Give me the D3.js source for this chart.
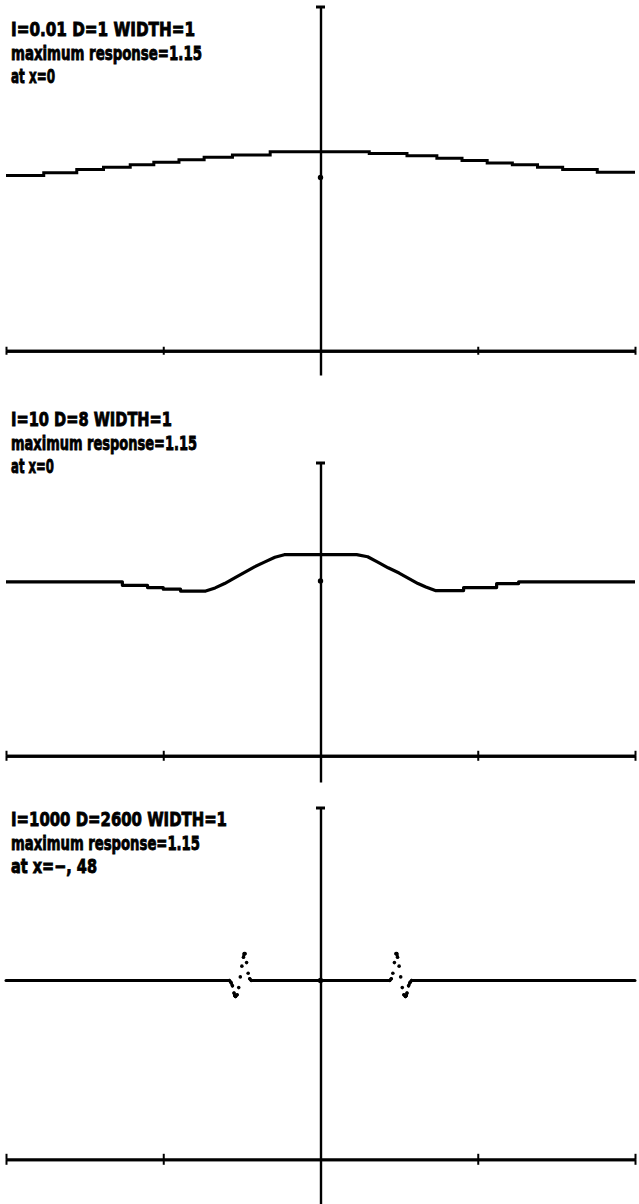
<!DOCTYPE html>
<html>
<head>
<meta charset="utf-8">
<script src="https://cdn.jsdelivr.net/npm/d3@7"></script>
<style>
  html, body { margin: 0; padding: 0; background: #fff; }
  svg { display: block; }
  .lbl { font-family: "Liberation Sans Narrow", "DejaVu Sans Condensed", "Roboto", sans-serif;
         font-weight: 700; font-size: 20px; fill: #000; stroke: #000; stroke-width: 0.85px; }
</style>
</head>
<body>
<svg id="chart" width="639" height="1204"></svg>
<script>
// ---- annotations ----
const titleLines = ["I=0.01 D=1 WIDTH=1", "I=10 D=8 WIDTH=1", "I=1000 D=2600 WIDTH=1"];
const maxLines   = ["maximum response=1.15", "maximum response=1.15", "maximum response=1.15"];
const atLines    = ["at x=0", "at x=0", "at x=\u2212, 48"];

// ---- axes ----
const xDomain = [-2, 2];
const xTicks = [-2, -1, 1, 2];
const unitMark = 1;                 // reference level marked on the vertical axis
const yExtents = [[-0.14, 1.99], [-0.15, 1.68], [-0.25, 1.97]];

// ---- panel 1: staircase response (step start x, level) ----
const p1StepX = [-2.0, -1.76, -1.55, -1.38, -1.21, -1.06, -0.90, -0.74, -0.56, -0.32,
                  0.31, 0.55, 0.74, 0.90, 1.06, 1.22, 1.38, 1.54, 1.76, 2.0];
const p1Level = [1.011, 1.028, 1.046, 1.059, 1.074, 1.088, 1.102, 1.117, 1.130, 1.148,
                 1.138, 1.125, 1.111, 1.098, 1.084, 1.074, 1.059, 1.046, 1.031, 1.031];

// ---- panel 2: response ----
const p2X = [-2.0, -1.26, -1.26, -1.10, -1.10, -1.00, -1.00, -0.89, -0.89, -0.73,
             -0.67, -0.61, -0.54, -0.48, -0.42, -0.35, -0.29, -0.23, 0.23, 0.30,
              0.37, 0.43, 0.50, 0.56, 0.62, 0.67, 0.73, 0.91, 0.91, 1.12,
              1.12, 1.26, 1.26, 2.0];
const p2Y = [0.995, 0.995, 0.975, 0.975, 0.962, 0.962, 0.953, 0.953, 0.942, 0.942,
             0.960, 0.985, 1.020, 1.050, 1.080, 1.110, 1.135, 1.150, 1.150, 1.138,
             1.105, 1.075, 1.045, 1.015, 0.985, 0.965, 0.945, 0.945, 0.962, 0.962,
             0.985, 0.985, 0.995, 0.995];

// ---- panel 3: sampled response with ringing near the window edges ----
const p3X = [-2.0, -0.58, -0.57, -0.56, -0.55, -0.545, -0.54, -0.53, -0.52, -0.51, -0.50, -0.49,
             -0.485, -0.48, -0.47, -0.46, -0.45, -0.44,
              0.44, 0.45, 0.46, 0.47, 0.48, 0.485, 0.49, 0.50, 0.51, 0.52, 0.53, 0.54,
              0.545, 0.55, 0.56, 0.57, 0.58, 2.0];
const p3Y = [1.0, 1.0, 0.99, 0.97, 0.93, 0.915, 0.91, 0.92, 0.96, 1.02, 1.08, 1.13,
             1.15, 1.15, 1.10, 1.04, 1.01, 1.0,
             1.0, 1.01, 1.04, 1.10, 1.15, 1.15, 1.13, 1.08, 1.02, 0.96, 0.92, 0.91,
             0.915, 0.93, 0.97, 0.99, 1.0, 1.0];

const svg = d3.select("#chart");
const xRange = [6, 635];
const yRanges = [[375, 6], [782, 462], [1204, 807]];
const baselines = [[36, 59.5, 83], [426, 449.5, 473], [826, 849.5, 873]];
const textWidths = [[184, 191, 44], [161, 186, 43], [216, 189, 86]];
const tickLens = [4, 5, 5.5];

const x = d3.scaleLinear().domain(xDomain).range(xRange);

function drawPanel(i) {
  const y = d3.scaleLinear().domain(yExtents[i]).range(yRanges[i]);
  const g = svg.append("g");
  const y0 = y(0);

  // horizontal axis with ticks crossing both sides
  const axB = d3.axisBottom(x).tickValues(xTicks).tickSizeInner(tickLens[i]).tickSizeOuter(0).tickFormat("");
  const axT = d3.axisTop(x).tickValues(xTicks).tickSizeInner(tickLens[i]).tickSizeOuter(0).tickFormat("");
  [axB, axT].forEach(ax => {
    const a = g.append("g").attr("transform", `translate(0,${y0})`).call(ax);
    a.selectAll("path.domain").attr("stroke", "#000").attr("stroke-width", 2.8);
    a.selectAll(".tick line").attr("stroke", "#000").attr("stroke-width", 2);
  });

  // vertical axis
  const axL = d3.axisLeft(y).tickValues([]).tickSizeOuter(0);
  const v = g.append("g").attr("transform", `translate(${x(0)},0)`).call(axL);
  v.selectAll("path.domain").attr("stroke", "#000").attr("stroke-width", 2.4);
  const yTop = y(yExtents[i][1]);
  g.append("line")
    .attr("x1", x(0) - 4.5).attr("x2", x(0) + 4.5)
    .attr("y1", yTop + 1).attr("y2", yTop + 1)
    .attr("stroke", "#000").attr("stroke-width", 3);
  g.append("circle")
    .attr("cx", x(0)).attr("cy", y(unitMark)).attr("r", 2.7).attr("fill", "#000");

  // labels
  const lines = [titleLines[i], maxLines[i], atLines[i]];
  lines.forEach((t, k) => {
    g.append("text").attr("class", "lbl")
      .attr("x", 11).attr("y", baselines[i][k])
      .attr("textLength", textWidths[i][k]).attr("lengthAdjust", "spacingAndGlyphs")
      .text(t);
  });
  return { g, y };
}

// panel 1
{
  const { g, y } = drawPanel(0);
  const pts = p1StepX.map((v, k) => [v, p1Level[k]]);
  const line = d3.line().x(d => x(d[0])).y(d => y(d[1])).curve(d3.curveStepAfter);
  g.append("path").datum(pts).attr("d", line)
    .attr("fill", "none").attr("stroke", "#000").attr("stroke-width", 3);
}

// panel 2
{
  const { g, y } = drawPanel(1);
  const pts = p2X.map((v, k) => [v, p2Y[k]]);
  const line = d3.line().x(d => x(d[0])).y(d => y(d[1]));
  g.append("path").datum(pts).attr("d", line)
    .attr("fill", "none").attr("stroke", "#000").attr("stroke-width", 3.2)
    .attr("stroke-linejoin", "round");
}

// panel 3: samples joined only where neighbours are close, otherwise shown as dots
{
  const { g, y } = drawPanel(2);
  const pts = p3X.map((v, k) => [v, p3Y[k]]);
  const segs = [];
  for (let k = 1; k < pts.length; k++) {
    const dy = Math.abs(y(pts[k][1]) - y(pts[k - 1][1]));
    if (dy < 4) segs.push([pts[k - 1], pts[k]]);
  }
  g.selectAll("line.seg").data(segs).enter().append("line").attr("class", "seg")
    .attr("x1", d => x(d[0][0])).attr("y1", d => y(d[0][1]))
    .attr("x2", d => x(d[1][0])).attr("y2", d => y(d[1][1]))
    .attr("stroke", "#000").attr("stroke-width", 3).attr("stroke-linecap", "round");
  g.selectAll("circle.pt").data(pts.filter(d => Math.abs(d[0]) < 1)).enter()
    .append("circle").attr("class", "pt")
    .attr("cx", d => x(d[0])).attr("cy", d => y(d[1])).attr("r", 1.8).attr("fill", "#000");
}
</script>
</body>
</html>
